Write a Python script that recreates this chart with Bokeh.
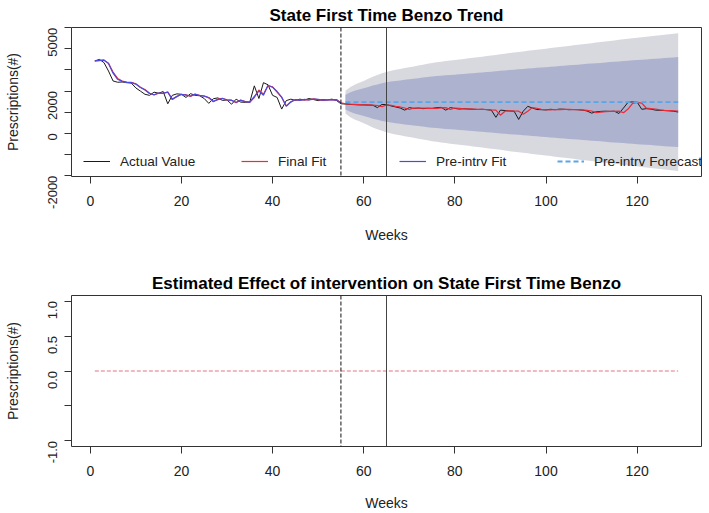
import math
from bokeh.plotting import figure
from bokeh.models import Range1d, FixedTicker, Span, Legend, LegendItem
from bokeh.layouts import column
from bokeh.embed import file_html
from bokeh.resources import INLINE

FONT = "Liberation Sans"

# ---------------- data ----------------
weeks = list(range(1, 130))

actual = [
    3430, 3500, 3350, 2950, 2480, 2420, 2430, 2410, 2380, 2150,
    2000, 1850, 1800, 1950, 1900, 1980, 1400, 1800, 1870, 1850,
    1700, 1880, 1800, 1780, 1650, 1420, 1640, 1680, 1560, 1580,
    1380, 1620, 1480, 1470, 1480, 2250, 1650, 2400, 2300, 1800,
    1700, 1150, 1550, 1620, 1560, 1620, 1580, 1650, 1600, 1550,
    1600, 1580, 1620, 1560, 1400,
    1390, 1370, 1360, 1350, 1350,
    1340, 1330, 1220, 1370, 1360, 1300, 1250, 1200, 1100, 1220,
    1180, 1200, 1170, 1190, 1180, 1220, 1230, 1100, 1220, 1180,
    1150, 1170, 1150, 1140, 1130, 1140, 1120, 1100, 760, 1100,
    1080, 1060, 1050, 660, 1050, 1280, 1200, 1130, 1120, 1110,
    1140, 1120, 1150, 1140, 1120, 1130, 1120, 1100, 1060, 960,
    1020, 1040, 1050, 1040, 1050, 940, 1200, 1470, 1490, 1480,
    1140, 1170, 1150, 1100, 1090, 1080, 1070, 1050, 1010,
]

final_fit = [
    3430, 3440, 3480, 3300, 2900, 2600, 2480, 2430, 2410, 2350,
    2180, 2080, 1900, 1820, 1900, 1900, 1960, 1600, 1760, 1840,
    1830, 1750, 1850, 1800, 1770, 1680, 1500, 1620, 1660, 1580,
    1570, 1450, 1580, 1500, 1480, 1700, 2050, 1850, 2250, 2200,
    1950, 1700, 1300, 1500, 1590, 1570, 1600, 1590, 1630, 1600,
    1560, 1590, 1590, 1600, 1450,
    1400, 1380, 1370, 1360, 1350,
    1345, 1340, 1320, 1260, 1350, 1330, 1280, 1250, 1200, 1130,
    1200, 1190, 1200, 1180, 1190, 1180, 1210, 1220, 1130, 1200,
    1180, 1160, 1160, 1150, 1140, 1135, 1130, 1110, 1100, 860,
    1050, 1070, 1060, 1050, 900, 1050, 1220, 1190, 1140, 1120,
    1110, 1130, 1120, 1140, 1140, 1120, 1120, 1110, 1090, 1060,
    980, 1010, 1030, 1040, 1040, 1050, 980, 1150, 1420, 1470,
    1430, 1200, 1170, 1150, 1110, 1090, 1080, 1070, 1050,
]

pre_fit_weeks = list(range(1, 56))
pre_fit = [
    3430, 3450, 3460, 3320, 2850, 2560, 2460, 2400, 2400, 2330,
    2170, 2050, 1890, 1830, 1910, 1890, 1950, 1620, 1740, 1850,
    1810, 1770, 1860, 1790, 1760, 1700, 1520, 1600, 1650, 1590,
    1560, 1470, 1560, 1500, 1470, 1750, 2000, 1800, 2280, 2180,
    1980, 1720, 1280, 1480, 1600, 1560, 1610, 1580, 1620, 1610,
    1570, 1580, 1600, 1590, 1440,
]

fc_weeks = list(range(56, 130))
forecast = [1480] * 74
hi95 = [
    2020, 2180, 2300, 2390, 2480, 2580, 2680, 2760, 2840, 2910,
    2960, 3010, 3050, 3090, 3130, 3170, 3210, 3250, 3290, 3330,
    3360, 3390, 3420, 3445, 3470, 3495, 3520, 3550, 3575, 3600,
    3630, 3660, 3685, 3710, 3740, 3770, 3800, 3825, 3850, 3880,
    3905, 3930, 3960, 3985, 4010, 4035, 4060, 4090, 4115, 4140,
    4165, 4190, 4220, 4245, 4270, 4295, 4320, 4350, 4375, 4400,
    4425, 4450, 4475, 4500, 4520, 4545, 4570, 4595, 4620, 4640,
    4665, 4690, 4715, 4740,
]
lo95 = [
    940, 780, 660, 570, 480, 380, 280, 200, 120, 50,
    0, -50, -90, -130, -170, -210, -250, -290, -330, -370,
    -400, -430, -460, -485, -510, -535, -560, -590, -615, -640,
    -670, -700, -725, -750, -780, -810, -840, -865, -890, -920,
    -945, -970, -1000, -1025, -1050, -1075, -1100, -1130, -1155, -1180,
    -1205, -1230, -1260, -1285, -1310, -1335, -1360, -1390, -1415, -1440,
    -1465, -1490, -1515, -1540, -1560, -1585, -1610, -1635, -1660, -1680,
    -1705, -1730, -1755, -1780,
]
hi80 = [
    1830, 1940, 2020, 2075, 2135, 2200, 2265, 2315, 2370, 2415,
    2450, 2480, 2505, 2535, 2560, 2585, 2610, 2640, 2665, 2690,
    2710, 2730, 2750, 2765, 2780, 2800, 2815, 2835, 2850, 2865,
    2885, 2905, 2920, 2940, 2960, 2980, 3000, 3015, 3030, 3050,
    3065, 3080, 3100, 3120, 3135, 3150, 3165, 3185, 3205, 3220,
    3235, 3250, 3270, 3290, 3305, 3320, 3335, 3355, 3375, 3390,
    3405, 3420, 3440, 3455, 3470, 3485, 3500, 3515, 3535, 3545,
    3565, 3580, 3595, 3610,
]
lo80 = [
    1130, 1020, 945, 885, 825, 760, 695, 645, 590, 545,
    510, 480, 455, 425, 400, 375, 350, 320, 295, 270,
    250, 230, 210, 195, 180, 160, 145, 125, 110, 95,
    75, 55, 40, 20, 0, -20, -40, -55, -70, -90,
    -105, -120, -140, -160, -175, -190, -205, -225, -245, -260,
    -275, -290, -310, -330, -345, -360, -375, -395, -415, -430,
    -445, -460, -480, -495, -510, -525, -540, -555, -575, -585,
    -605, -620, -635, -650,
]

effect = [0.0] * 129

intervention_start = 55
intervention_end = 65

x_ticks = [0, 20, 40, 60, 80, 100, 120]
top_y_ticks = [-2000, -1000, 0, 1000, 2000, 3000, 4000, 5000]
top_y_labels = {-2000: "-2000", -1000: "", 0: "0", 1000: "", 2000: "2000",
                3000: "", 4000: "", 5000: "5000"}
bot_y_ticks = [-1.0, -0.5, 0.0, 0.5, 1.0]
bot_y_labels = {-1: "-1.0", -0.5: "", 0: "0.0", 0.5: "0.5", 1: "1.0"}

legend_labels = ["Actual Value", "Final Fit", "Pre-intrv Fit", "Pre-intrv Forecast"]

# ---------------- styling helpers ----------------
FIG_W = 709
TEXT_COL = "#222222"
BOX_COL = "#333333"


def make_fig(height, b_top, b_bottom, y_range, y_ticks, y_labels, title, week_standoff):
    p = figure(width=FIG_W, height=height, x_range=Range1d(-4.12, 134.12),
               y_range=y_range, output_backend="svg", toolbar_location=None,
               min_border_left=71, min_border_right=8,
               min_border_top=b_top, min_border_bottom=b_bottom)
    p.grid.visible = False
    p.outline_line_color = BOX_COL
    p.outline_line_width = 1
    p.outline_line_alpha = 1.0
    p.background_fill_color = "white"
    p.border_fill_color = "white"
    p.title.text = title
    p.title.align = "center"
    p.title.text_font = FONT
    p.title.text_font_size = "17px"
    p.title.text_font_style = "bold"
    p.title.text_color = "black"
    p.title.standoff = 6
    xa = p.xaxis[0]
    ya = p.yaxis[0]
    xa.ticker = FixedTicker(ticks=x_ticks, minor_ticks=[])
    ya.ticker = FixedTicker(ticks=y_ticks, minor_ticks=[])
    ya.major_label_overrides = y_labels
    for ax in (xa, ya):
        ax.axis_line_color = None
        ax.major_tick_out = 7
        ax.major_tick_in = 0
        ax.major_tick_line_color = BOX_COL
        ax.minor_tick_line_color = None
        ax.major_label_text_font = FONT
        ax.major_label_text_color = TEXT_COL
        ax.axis_label_text_font = FONT
        ax.axis_label_text_font_size = "14px"
        ax.axis_label_text_font_style = "normal"
        ax.axis_label_text_color = TEXT_COL
    xa.major_label_text_font_size = "14px"
    xa.major_label_standoff = 12
    xa.axis_label = "Weeks"
    xa.axis_label_standoff = week_standoff
    ya.major_label_text_font_size = "13px"
    ya.major_label_orientation = math.pi / 2
    ya.major_label_standoff = 12
    ya.axis_label = "Prescriptions(#)"
    ya.axis_label_standoff = 20
    return p


# ---------------- top chart ----------------
H1 = 262
p1 = make_fig(H1, 26, H1 - 26 - 150, Range1d(-2040, 5010), top_y_ticks, top_y_labels,
              "State First Time Benzo Trend", 18)

p1.varea(x=fc_weeks, y1=lo95, y2=hi95, fill_color="#D8D8DF")
p1.varea(x=fc_weeks, y1=lo80, y2=hi80, fill_color="#ADB2CF")
r_act = p1.line(weeks, actual, line_color="#1a1a1a", line_width=1)
r_fin = p1.line(weeks, final_fit, line_color="#ee2a36", line_width=1.2)
r_pre = p1.line(pre_fit_weeks, pre_fit, line_color="#4a4ae0", line_width=1.2)
r_fc = p1.line(fc_weeks, forecast, line_color="#5aa5e8", line_width=1.8, line_dash="5 3")

p1.add_layout(Span(location=intervention_start, dimension="height", line_color="#111111",
                   line_width=1, line_dash="4 2"))
p1.add_layout(Span(location=intervention_end, dimension="height", line_color="#444444",
                   line_width=1))

legend = Legend(items=[LegendItem(label=legend_labels[0], renderers=[r_act]),
                       LegendItem(label=legend_labels[1], renderers=[r_fin]),
                       LegendItem(label=legend_labels[2], renderers=[r_pre]),
                       LegendItem(label=legend_labels[3], renderers=[r_fc])],
                orientation="horizontal", location=(12, 7),
                glyph_width=27, glyph_height=16, label_height=16, label_width=121,
                label_standoff=10, spacing=0, padding=0, margin=0,
                border_line_color=None, background_fill_alpha=0,
                label_text_font=FONT, label_text_font_size="13.6px",
                label_text_color=TEXT_COL)
p1.add_layout(legend)

# ---------------- bottom chart ----------------
H2 = 251
p2 = make_fig(H2, 33, H2 - 33 - 151, Range1d(-1.08, 1.08), bot_y_ticks, bot_y_labels,
              "Estimated Effect of intervention on State First Time Benzo", 16)
p2.line(weeks, effect, line_color="#e07080", line_width=1, line_dash="4 2")
p2.add_layout(Span(location=intervention_start, dimension="height", line_color="#111111",
                   line_width=1, line_dash="4 2"))
p2.add_layout(Span(location=intervention_end, dimension="height", line_color="#444444",
                   line_width=1))

layout = column(p1, p2, spacing=0)
open("out.html", "w").write(file_html(layout, INLINE))
